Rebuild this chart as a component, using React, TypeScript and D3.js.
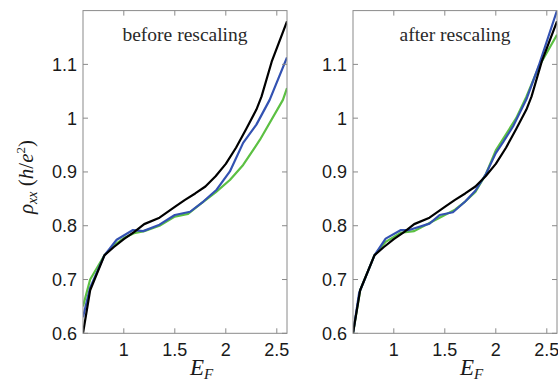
import React from "react";
import * as d3 from "d3";

type Pt = [number, number];

const xTicks = [1, 1.5, 2, 2.5];
const yTicks = [0.6, 0.7, 0.8, 0.9, 1.0, 1.1];
const xTickLabels = ["1", "1.5", "2", "2.5"];
const yTickLabels = ["0.6", "0.7", "0.8", "0.9", "1", "1.1"];
const panelTitles = ["before rescaling", "after rescaling"];

const blackLeft: Pt[] = [
  [0.6, 0.6], [0.67, 0.68], [0.81, 0.745], [0.9, 0.76], [1.0, 0.775], [1.1, 0.788],
  [1.2, 0.803], [1.35, 0.815], [1.5, 0.835], [1.6, 0.848], [1.7, 0.86], [1.8, 0.873],
  [1.9, 0.892], [2.0, 0.915], [2.1, 0.945], [2.2, 0.98], [2.3, 1.016], [2.35, 1.04],
  [2.45, 1.105], [2.6, 1.18],
];
const blueLeft: Pt[] = [
  [0.6, 0.63], [0.67, 0.685], [0.81, 0.745], [0.93, 0.774], [1.09, 0.792], [1.19, 0.79],
  [1.35, 0.802], [1.5, 0.82], [1.65, 0.826], [1.78, 0.845], [1.91, 0.867], [2.04, 0.901],
  [2.17, 0.954], [2.3, 0.988], [2.43, 1.034], [2.6, 1.113],
];
const greenLeft: Pt[] = [
  [0.6, 0.65], [0.67, 0.7], [0.81, 0.745], [0.92, 0.766], [1.0, 0.777], [1.1, 0.786],
  [1.2, 0.79], [1.35, 0.8], [1.5, 0.817], [1.63, 0.822], [1.75, 0.84], [1.9, 0.862],
  [2.04, 0.885], [2.17, 0.913], [2.335, 0.96], [2.56, 1.034], [2.6, 1.056],
];
const blackRight: Pt[] = blackLeft;
const blueRight: Pt[] = [
  [0.6, 0.6], [0.66, 0.675], [0.81, 0.745], [0.92, 0.776], [1.07, 0.792], [1.15, 0.792],
  [1.35, 0.804], [1.45, 0.82], [1.58, 0.825], [1.7, 0.845], [1.8, 0.865], [1.9, 0.895],
  [2.0, 0.935], [2.07, 0.955], [2.17, 0.985], [2.3, 1.035], [2.42, 1.097], [2.6, 1.2],
];
const greenRight: Pt[] = [
  [0.6, 0.6], [0.67, 0.68], [0.81, 0.745], [0.92, 0.77], [1.07, 0.787], [1.2, 0.79],
  [1.35, 0.805], [1.5, 0.82], [1.6, 0.83], [1.7, 0.845], [1.8, 0.863], [1.9, 0.895],
  [2.0, 0.94], [2.1, 0.97], [2.2, 1.0], [2.3, 1.04], [2.42, 1.095], [2.6, 1.155],
];

const panels = [
  { title: panelTitles[0], series: [greenLeft, blueLeft, blackLeft] },
  { title: panelTitles[1], series: [greenRight, blueRight, blackRight] },
];
const colors = ["#5cc043", "#3352b2", "#000000"];

const W = 558, H = 381;
const panelLefts = [83, 353];
const pw = 204;
const top = 10.6, bottom = 333.3;

function Panel({ idx }: { idx: number }) {
  const p = panels[idx];
  const x0 = panelLefts[idx];
  const x = d3.scaleLinear().domain([0.6, 2.6]).range([x0, x0 + pw]);
  const y = d3.scaleLinear().domain([0.6, 1.2]).range([bottom, top]);
  const line = d3.line<Pt>().x((d) => x(d[0])).y((d) => y(d[1]));
  const clipId = `clip${idx}`;
  const tl = 5;
  const frame = "#8a8a8a";
  return (
    <g>
      <defs>
        <clipPath id={clipId}>
          <rect x={x0} y={top} width={pw} height={bottom - top} />
        </clipPath>
      </defs>
      <g clipPath={`url(#${clipId})`}>
        {p.series.map((s, i) => (
          <path key={i} d={line(s) ?? ""} fill="none" stroke={colors[i]} strokeWidth={2.2} strokeLinejoin="round" />
        ))}
      </g>
      <rect x={x0} y={top} width={pw} height={bottom - top} fill="none" stroke={frame} strokeWidth={1} />
      {xTicks.map((t) => (
        <g key={"xt" + t}>
          <line x1={x(t)} x2={x(t)} y1={bottom} y2={bottom - tl} stroke={frame} />
          <line x1={x(t)} x2={x(t)} y1={top} y2={top + tl} stroke={frame} />
        </g>
      ))}
      {yTicks.map((t) => (
        <g key={"yt" + t}>
          <line x1={x0} x2={x0 + tl} y1={y(t)} y2={y(t)} stroke={frame} />
          <line x1={x0 + pw} x2={x0 + pw - tl} y1={y(t)} y2={y(t)} stroke={frame} />
        </g>
      ))}
      {xTicks.map((t, i) => (
        <text key={"xl" + t} x={x(t)} y={355.5} textAnchor="middle" fontFamily="'Liberation Sans', Arial, sans-serif" fontSize={18} fill="#1a1a1a">
          {xTickLabels[i]}
        </text>
      ))}
      {yTicks.map((t, i) => (
        <text key={"yl" + t} x={x0 - 6} y={y(t) + 6.5} textAnchor="end" fontFamily="'Liberation Sans', Arial, sans-serif" fontSize={18} fill="#1a1a1a">
          {yTickLabels[i]}
        </text>
      ))}
      <text x={x0 + pw / 2} y={41} textAnchor="middle" fontFamily="'Liberation Serif', 'Times New Roman', serif" fontSize={19.5} fill="#2a2a2a">
        {p.title}
      </text>
      <text x={x0 + pw / 2 + 5} y={375} fontFamily="'Liberation Serif', serif" fontStyle="italic" fill="#1a1a1a">
        <tspan fontSize={23}>E</tspan>
        <tspan fontSize={15} dy={4}>F</tspan>
      </text>
    </g>
  );
}

export default function App() {
  return (
    <svg width={W} height={H} style={{ position: "absolute", left: 0, top: 0, background: "#fff" }}>
      <rect width={W} height={H} fill="#fff" />
      <Panel idx={0} />
      <Panel idx={1} />
      <text transform="translate(33,177) rotate(-90)" textAnchor="middle" fontFamily="'Liberation Serif', serif" fill="#1a1a1a" fontSize={21}>
        <tspan fontStyle="italic">ρ</tspan>
        <tspan fontStyle="italic" fontSize={14} dy={4}>xx</tspan>
        <tspan dy={-4}> (</tspan>
        <tspan fontStyle="italic">h</tspan>
        <tspan>/</tspan>
        <tspan fontStyle="italic">e</tspan>
        <tspan fontSize={13} dy={-8}>2</tspan>
        <tspan dy={8}>)</tspan>
      </text>
    </svg>
  );
}
